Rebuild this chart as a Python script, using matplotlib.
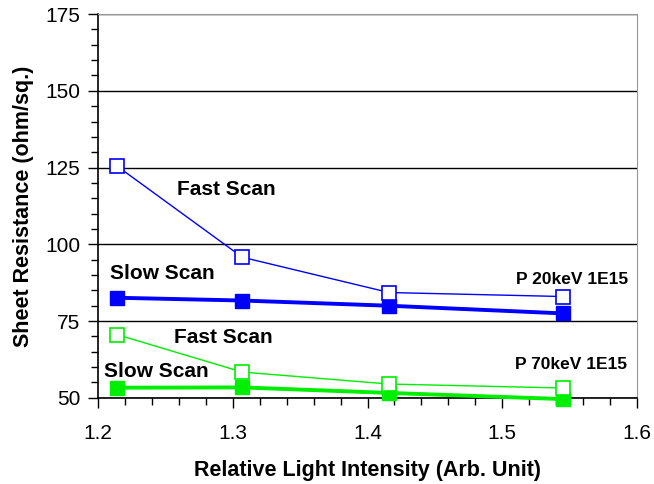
import matplotlib
matplotlib.use("Agg")
import matplotlib.pyplot as plt
from matplotlib.ticker import MultipleLocator

plt.rcParams['font.family'] = ['Liberation Sans', 'DejaVu Sans']

x = [1.214, 1.307, 1.416, 1.545]
blue_fast = [125.5, 95.8, 84.3, 83.0]
blue_slow = [82.6, 81.7, 80.0, 77.5]
green_fast = [70.6, 58.4, 54.5, 53.2]
green_slow = [53.3, 53.4, 51.6, 49.6]

fig = plt.figure(figsize=(6.54, 4.84), dpi=100)
ax = fig.add_axes([0.150, 0.178, 0.824, 0.793])

BLUE = '#0000FF'
GREEN = '#00EE00'

ax.plot(x, blue_fast, color=BLUE, lw=1.0, marker='s', ms=10, mfc='white', mec=BLUE, mew=1.2, clip_on=False, zorder=4)
ax.plot(x, blue_slow, color=BLUE, lw=2.8, marker='s', ms=10, mfc=BLUE, mec=BLUE, clip_on=False, zorder=3)
ax.plot(x, green_fast, color=GREEN, lw=1.0, marker='s', ms=10, mfc='white', mec=GREEN, mew=1.2, clip_on=False, zorder=4)
ax.plot(x, green_slow, color=GREEN, lw=2.8, marker='s', ms=10, mfc=GREEN, mec=GREEN, clip_on=False, zorder=3)

ax.set_xlim(1.2, 1.6)
ax.set_ylim(50, 175)
ax.xaxis.set_major_locator(MultipleLocator(0.1))
ax.xaxis.set_minor_locator(MultipleLocator(0.02))
ax.yaxis.set_major_locator(MultipleLocator(25))
ax.yaxis.set_minor_locator(MultipleLocator(5))
ax.set_xticks([1.2, 1.3, 1.4, 1.5, 1.6])
ax.set_xticklabels(['1.2', '1.3', '1.4', '1.5', '1.6'])

ax.grid(axis='y', which='major', color='black', lw=1.0)
ax.set_axisbelow(True)
ax.tick_params(axis='both', which='major', direction='out', length=7, width=1, labelsize=15)
ax.tick_params(axis='y', which='major', pad=6)
ax.tick_params(axis='x', which='major', pad=12)
ax.tick_params(axis='both', which='minor', direction='out', length=5, width=1)

for s in ['top', 'right']:
    ax.spines[s].set_color('#999999')
for s in ['left', 'bottom']:
    ax.spines[s].set_color('black')
    ax.spines[s].set_linewidth(1.2)

ax.set_xlabel('Relative Light Intensity (Arb. Unit)', fontsize=15.5, fontweight='bold', labelpad=12)
ax.set_ylabel('Sheet Resistance (ohm/sq.)', fontsize=15.5, fontweight='bold', labelpad=8)

tkw = dict(fontsize=15, fontweight='bold', ha='center', va='baseline')
ax.text(1.295, 116.1, 'Fast Scan', **tkw)
ax.text(1.248, 88.7, 'Slow Scan', **tkw)
ax.text(1.293, 67.9, 'Fast Scan', **tkw)
ax.text(1.243, 56.9, 'Slow Scan', **tkw)
pkw = dict(fontsize=12.5, fontweight='bold', ha='right', va='baseline')
ax.text(1.5935, 87.1, 'P 20keV 1E15', **pkw)
ax.text(1.5925, 59.3, 'P 70keV 1E15', **pkw)

fig.savefig('out.png', dpi=100)
